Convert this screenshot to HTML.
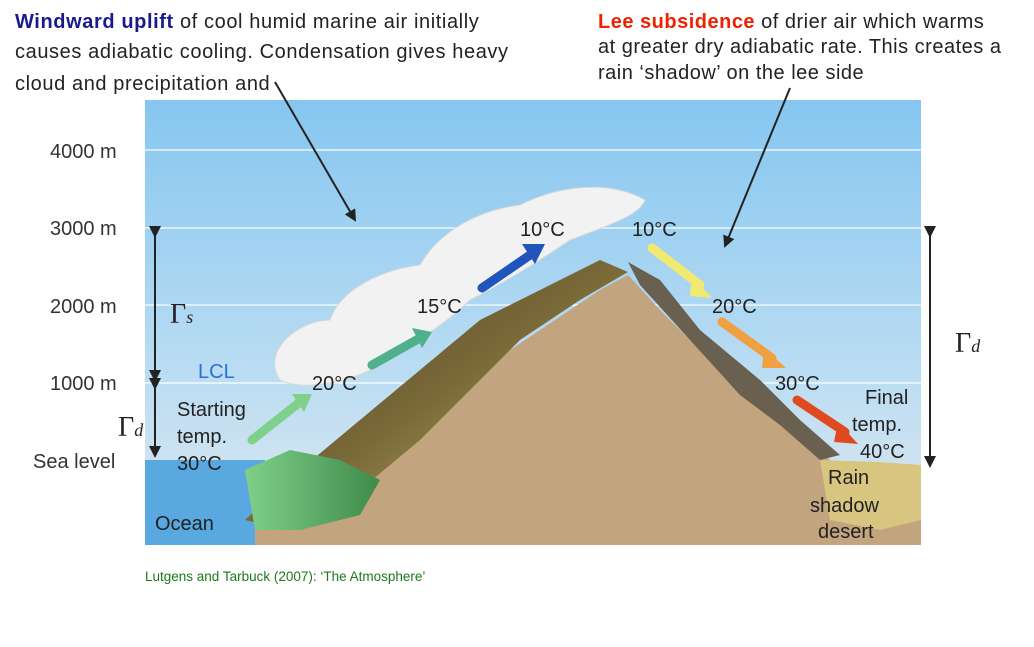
<!DOCTYPE html>
<html><head><meta charset="utf-8"><style>
body{margin:0;background:#fff;}
svg{display:block;font-family:"Liberation Sans",sans-serif;}
</style></head><body>
<svg width="1034" height="647" viewBox="0 0 1034 647">
<defs>
<linearGradient id="sky" x1="0" y1="0" x2="0" y2="1">
<stop offset="0" stop-color="#86c6f0"/><stop offset="0.6" stop-color="#b9dcf2"/><stop offset="1" stop-color="#dfe8f0"/></linearGradient>
<linearGradient id="flank" x1="0" y1="0" x2="1" y2="1">
<stop offset="0" stop-color="#4a3c28"/><stop offset="0.5" stop-color="#7a6a38"/><stop offset="1" stop-color="#c9b870"/></linearGradient>
<linearGradient id="green" x1="0" y1="0" x2="1" y2="0">
<stop offset="0" stop-color="#7fd08a"/><stop offset="1" stop-color="#3f8a4a"/></linearGradient>
<marker id="ah" markerWidth="6" markerHeight="6" refX="5" refY="3" orient="auto"><path d="M0,0 L6,3 L0,6 Z" fill="#222"/></marker>
</defs>
<g>
<rect x="145" y="100" width="776" height="445" fill="url(#sky)"/>
<g stroke="#fff" stroke-width="1.5" opacity="0.8">
<line x1="145" y1="150" x2="921" y2="150"/><line x1="145" y1="228" x2="921" y2="228"/>
<line x1="145" y1="305" x2="921" y2="305"/><line x1="145" y1="383" x2="921" y2="383"/></g>
<rect x="145" y="460" width="120" height="85" fill="#5aa8e0"/>
<path d="M255,530 L300,505 L360,470 L420,420 L480,370 L540,330 L600,290 L628,275 L660,310 L720,370 L780,420 L830,460 L880,480 L921,490 L921,545 L255,545 Z" fill="#c2a47e"/>
<path d="M245,520 L300,470 L360,420 L420,370 L480,320 L540,290 L600,260 L628,272 L580,300 L520,340 L470,390 L420,440 L360,490 L290,530 Z" fill="url(#flank)"/>
<path d="M245,470 L290,450 L340,460 L380,480 L360,515 L300,530 L255,530 Z" fill="url(#green)"/>
<path d="M628,262 L660,280 L700,330 L760,380 L800,420 L840,455 L820,460 L780,425 L740,395 L690,340 L640,285 Z" fill="#6a6050"/>
<path d="M820,460 L880,462 L921,465 L921,520 L880,530 L830,520 Z" fill="#d8c680"/>
<path d="M280,380 C260,350 300,320 330,320 C340,290 380,270 420,265 C440,230 480,210 520,205 C560,185 610,180 645,200 C640,215 610,225 570,240 C540,260 510,280 470,300 C440,330 400,350 370,370 C340,385 300,390 280,380 Z" fill="#f2f2f2" stroke="#d8d8d8"/>
<g stroke-width="9" fill="none" stroke-linecap="round">
<path d="M252,440 L300,402" stroke="#7fd08a"/><path d="M372,365 L420,338" stroke="#4fb08a"/>
<path d="M482,288 L530,255" stroke="#2255bb"/><path d="M652,248 L700,285" stroke="#f2ea70"/>
<path d="M722,322 L772,358" stroke="#f0a040"/><path d="M797,400 L845,432" stroke="#e04a20"/></g>
<g><path d="M292,394 L312,394 L304,412Z" fill="#7fd08a"/><path d="M412,328 L432,332 L422,348Z" fill="#4fb08a"/>
<path d="M522,244 L545,244 L535,264Z" fill="#2255bb"/><path d="M692,276 L712,298 L690,296Z" fill="#f2ea70"/>
<path d="M764,348 L786,368 L762,368Z" fill="#f0a040"/><path d="M838,422 L858,444 L834,442Z" fill="#e04a20"/></g>
<g font-size="20" fill="#222">
<text x="520" y="236">10°C</text><text x="632" y="236">10°C</text>
<text x="417" y="313">15°C</text><text x="712" y="313">20°C</text>
<text x="312" y="390">20°C</text><text x="775" y="390">30°C</text>
<text x="198" y="378" fill="#2a70d8">LCL</text>
<text x="177" y="416">Starting</text><text x="177" y="443">temp.</text><text x="177" y="470">30°C</text>
<text x="865" y="404">Final</text><text x="852" y="431">temp.</text><text x="860" y="458">40°C</text>
<text x="828" y="484">Rain</text><text x="810" y="512">shadow</text><text x="818" y="538">desert</text>
<text x="155" y="530">Ocean</text></g>
</g>
<g font-size="20" fill="#333">
<text x="50" y="158">4000 m</text><text x="50" y="235">3000 m</text><text x="50" y="313">2000 m</text>
<text x="50" y="390">1000 m</text><text x="33" y="468">Sea level</text></g>
<g stroke="#222" stroke-width="2">
<line x1="155" y1="236" x2="155" y2="380" marker-end="url(#ah)" marker-start="url(#ah)"/>
<line x1="155" y1="388" x2="155" y2="456" marker-end="url(#ah)" marker-start="url(#ah)"/>
<line x1="930" y1="236" x2="930" y2="466" marker-end="url(#ah)" marker-start="url(#ah)"/>
<line x1="275" y1="82" x2="355" y2="220" marker-end="url(#ah)"/>
<line x1="790" y1="88" x2="725" y2="246" marker-end="url(#ah)"/></g>
<g font-family="Liberation Serif,serif" font-size="28" fill="#222">
<text x="170" y="323">Γ<tspan font-size="18" font-style="italic">s</tspan></text>
<text x="118" y="436">Γ<tspan font-size="18" font-style="italic">d</tspan></text>
<text x="955" y="352">Γ<tspan font-size="18" font-style="italic">d</tspan></text></g>
<g font-size="20" letter-spacing="0.6" fill="#222">
<text x="15" y="28"><tspan font-weight="bold" fill="#1a1a8c">Windward uplift</tspan> of cool humid marine air initially</text>
<text x="15" y="58">causes adiabatic cooling. Condensation gives heavy</text>
<text x="15" y="90">cloud and precipitation and</text></g>
<g font-size="20" letter-spacing="0.5" fill="#222">
<text x="598" y="28"><tspan font-weight="bold" fill="#ee2200">Lee subsidence</tspan> of drier air which warms</text>
<text x="598" y="53">at greater dry adiabatic rate. This creates a</text>
<text x="598" y="79">rain ‘shadow’ on the lee side</text></g>
<text x="145" y="581" font-size="13.5" fill="#1a7a1a">Lutgens and Tarbuck (2007): ‘The Atmosphere’</text>
</svg>
</body></html>
